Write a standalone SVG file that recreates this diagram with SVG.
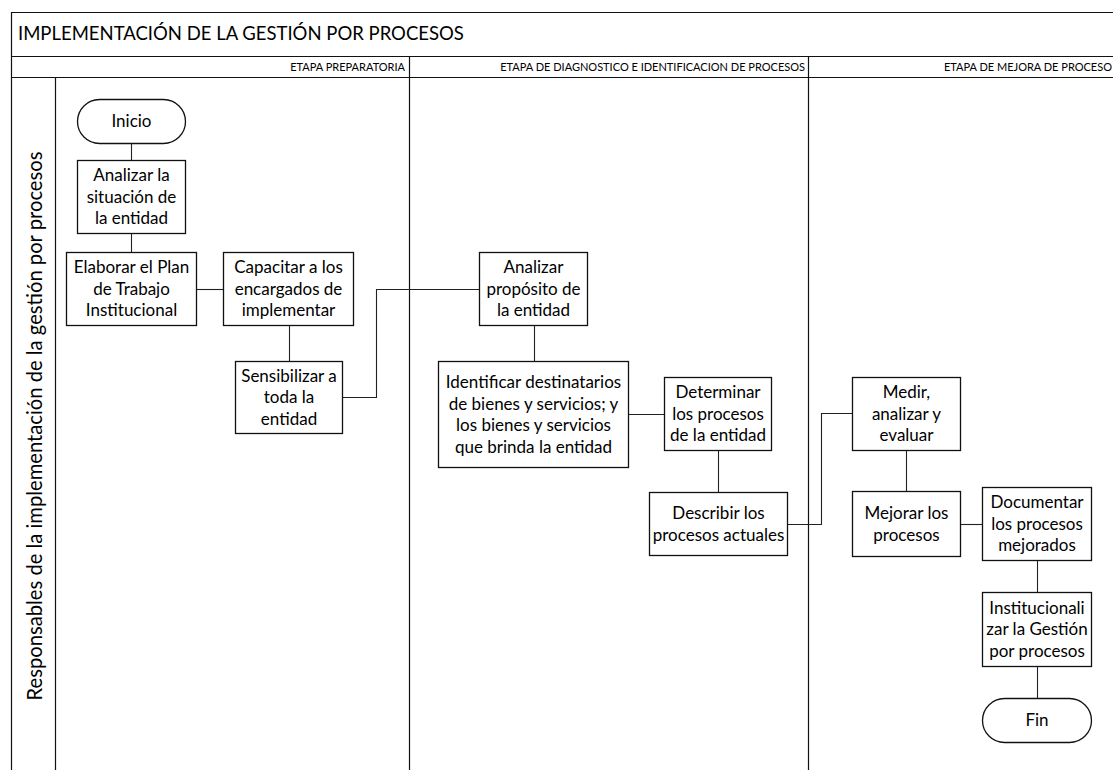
<svg xmlns="http://www.w3.org/2000/svg" width="1113" height="770" viewBox="0 0 1113 770">
  <style>
    .frame { fill: none; stroke: #111; stroke-width: 1.2; }
    .box { fill: #fff; stroke: #111; stroke-width: 1.3; }
    .wire { fill: none; stroke: #222; stroke-width: 1.1; }
    .t { font-family: Lato, "Liberation Sans", sans-serif; font-size: 17px; fill: #000; text-anchor: middle; }
    .hdr { font-family: Lato, "Liberation Sans", sans-serif; font-size: 11px; fill: #000; text-anchor: end; }
    .title { font-family: Lato, "Liberation Sans", sans-serif; font-size: 18.5px; fill: #000; }
    .lane { font-family: Lato, "Liberation Sans", sans-serif; font-size: 20.2px; fill: #000; text-anchor: middle; }
  </style>

  <rect x="0" y="0" width="1113" height="770" fill="#fff"/>

  <!-- pool frame, header rows and phase dividers -->
  <g id="pool">
    <path class="frame" d="M11.5,770 V12.5 H1113 M11.5,56.5 H1113 M11.5,77.5 H1113 M55.5,77.5 V770 M409.5,56.5 V770 M808.5,56.5 V770"/>
    <text class="title" x="18" y="40">IMPLEMENTACIÓN DE LA GESTIÓN POR PROCESOS</text>
    <text class="hdr" x="405" y="71">ETAPA PREPARATORIA</text>
    <text class="hdr" x="805" y="71">ETAPA DE DIAGNOSTICO E IDENTIFICACION DE PROCESOS</text>
    <text class="hdr" x="1112" y="71">ETAPA DE MEJORA DE PROCESO</text>
    <text class="lane" transform="translate(42,426) rotate(-90)">Responsables de la implementación de la gestión por procesos</text>
  </g>

  <!-- connectors -->
  <g id="connectors">
    <path class="wire" d="M131.5,143 V160"/>
    <path class="wire" d="M131.5,234 V252"/>
    <path class="wire" d="M197,289.5 H223"/>
    <path class="wire" d="M289.5,326 V361"/>
    <path class="wire" d="M343,397.5 H376.5 V289.5 H479"/>
    <path class="wire" d="M534.5,326 V361"/>
    <path class="wire" d="M629,414.5 H664"/>
    <path class="wire" d="M718.5,451 V492"/>
    <path class="wire" d="M788,524.5 H821.5 V413.5 H852"/>
    <path class="wire" d="M906.5,451 V491"/>
    <path class="wire" d="M961,524.5 H982"/>
    <path class="wire" d="M1037.5,561 V592"/>
    <path class="wire" d="M1037.5,667 V698"/>
  </g>

  <g id="inicio">
    <rect class="box" x="77.5" y="99.5" width="108" height="44" rx="22" ry="22"/>
    <text class="t" x="131.5" y="127">Inicio</text>
  </g>

  <g id="analizar-situacion">
    <rect class="box" x="77.5" y="160.5" width="108" height="73"/>
    <text class="t" x="131.5" y="181">Analizar la</text>
    <text class="t" x="131.5" y="202.5">situación de</text>
    <text class="t" x="131.5" y="224">la entidad</text>
  </g>

  <g id="elaborar-plan">
    <rect class="box" x="66.5" y="252.5" width="130" height="73"/>
    <text class="t" x="131.5" y="273">Elaborar el Plan</text>
    <text class="t" x="131.5" y="294.5">de Trabajo</text>
    <text class="t" x="131.5" y="316">Institucional</text>
  </g>

  <g id="capacitar">
    <rect class="box" x="223.5" y="252.5" width="130" height="73"/>
    <text class="t" x="288.5" y="273">Capacitar a los</text>
    <text class="t" x="288.5" y="294.5">encargados de</text>
    <text class="t" x="288.5" y="316">implementar</text>
  </g>

  <g id="sensibilizar">
    <rect class="box" x="235.5" y="361.5" width="107" height="72"/>
    <text class="t" x="289" y="381.5">Sensibilizar a</text>
    <text class="t" x="289" y="403">toda la</text>
    <text class="t" x="289" y="424.5">entidad</text>
  </g>

  <g id="analizar-proposito">
    <rect class="box" x="479.5" y="252.5" width="108" height="73"/>
    <text class="t" x="533.5" y="273">Analizar</text>
    <text class="t" x="533.5" y="294.5">propósito de</text>
    <text class="t" x="533.5" y="316">la entidad</text>
  </g>

  <g id="identificar-destinatarios">
    <rect class="box" x="438.5" y="361.5" width="190" height="106"/>
    <text class="t" x="533.5" y="388">Identificar destinatarios</text>
    <text class="t" x="533.5" y="409.5">de bienes y servicios; y</text>
    <text class="t" x="533.5" y="431">los bienes y servicios</text>
    <text class="t" x="533.5" y="452.5">que brinda la entidad</text>
  </g>

  <g id="determinar-procesos">
    <rect class="box" x="664.5" y="377.5" width="107" height="73"/>
    <text class="t" x="718" y="398">Determinar</text>
    <text class="t" x="718" y="419.5">los procesos</text>
    <text class="t" x="718" y="441">de la entidad</text>
  </g>

  <g id="describir-procesos">
    <rect class="box" x="649.5" y="492.5" width="138" height="63"/>
    <text class="t" x="718.5" y="519">Describir los</text>
    <text class="t" x="718.5" y="540.5">procesos actuales</text>
  </g>

  <g id="medir">
    <rect class="box" x="852.5" y="377.5" width="108" height="73"/>
    <text class="t" x="906.5" y="398">Medir,</text>
    <text class="t" x="906.5" y="419.5">analizar y</text>
    <text class="t" x="906.5" y="441">evaluar</text>
  </g>

  <g id="mejorar">
    <rect class="box" x="852.5" y="491.5" width="108" height="65"/>
    <text class="t" x="906.5" y="519">Mejorar los</text>
    <text class="t" x="906.5" y="540.5">procesos</text>
  </g>

  <g id="documentar">
    <rect class="box" x="982.5" y="487.5" width="109" height="73"/>
    <text class="t" x="1037" y="508">Documentar</text>
    <text class="t" x="1037" y="529.5">los procesos</text>
    <text class="t" x="1037" y="551">mejorados</text>
  </g>

  <g id="institucionalizar">
    <rect class="box" x="982.5" y="592.5" width="109" height="74"/>
    <text class="t" x="1037" y="613.5">Institucionali</text>
    <text class="t" x="1037" y="635">zar la Gestión</text>
    <text class="t" x="1037" y="656.5">por procesos</text>
  </g>

  <g id="fin">
    <rect class="box" x="982.5" y="698.5" width="109" height="44" rx="22" ry="22"/>
    <text class="t" x="1037" y="726">Fin</text>
  </g>
</svg>
